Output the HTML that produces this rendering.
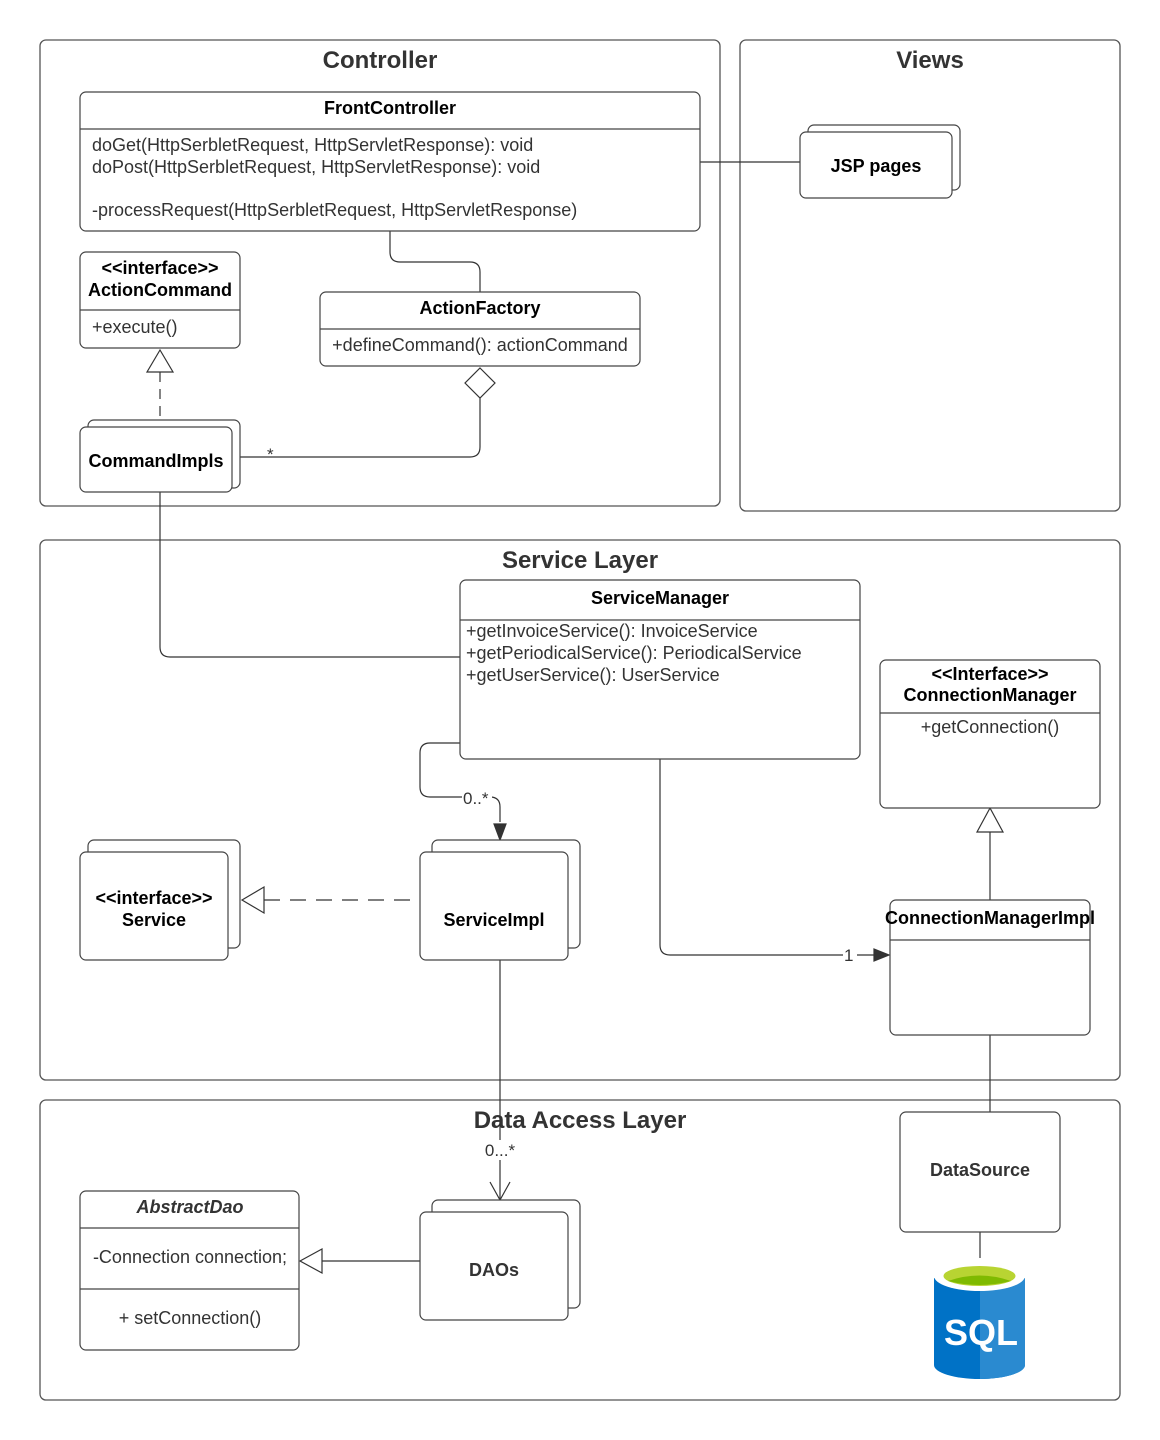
<!DOCTYPE html>
<html><head><meta charset="utf-8"><style>
html,body{margin:0;padding:0;background:#fff}
svg{display:block}
text{font-family:"Liberation Sans",Arial,sans-serif;fill:#333}
.b{font-weight:bold;fill:#000}
</style></head><body>
<svg width="1160" height="1440" viewBox="0 0 1160 1440" xmlns="http://www.w3.org/2000/svg">
<g fill="none" stroke="#555" stroke-width="1.3">
<rect x="40" y="40" width="680" height="466" rx="6" fill="#fff"/>
<rect x="740" y="40" width="380" height="471" rx="6" fill="#fff"/>
<rect x="40" y="540" width="1080" height="540" rx="6" fill="#fff"/>
<rect x="40" y="1100" width="1080" height="300" rx="6" fill="#fff"/>
</g>
<g font-size="24" font-weight="bold" text-anchor="middle">
<text x="380" y="68">Controller</text>
<text x="930" y="68">Views</text>
<text x="580" y="568">Service Layer</text>
<text x="580" y="1128">Data Access Layer</text>
</g>
<g fill="none" stroke="#333" stroke-width="1.2">
<line x1="700" y1="162" x2="800" y2="162"/>
<path d="M390 231 V252 Q390 262 400 262 H470 Q480 262 480 272 V292"/>
<path d="M480 398 V447 Q480 457 470 457 H240"/>
<line x1="160" y1="372" x2="160" y2="420" stroke-dasharray="10,7"/>
<path d="M160 492 V647 Q160 657 170 657 H460"/>
<path d="M460 743 H430 Q420 743 420 753 V787 Q420 797 430 797 H490 Q500 797 500 807 V822"/>
<path d="M660 759 V945 Q660 955 670 955 H874"/>
<line x1="990" y1="832" x2="990" y2="900"/>
<line x1="264" y1="900" x2="420" y2="900" stroke-dasharray="16,10"/>
<line x1="500" y1="960" x2="500" y2="1200"/>
<path d="M490 1182 L500 1200 L510 1182"/>
<line x1="990" y1="1035" x2="990" y2="1112"/>
<line x1="980" y1="1232" x2="980" y2="1258"/>
<line x1="322" y1="1261" x2="420" y2="1261"/>
</g>
<g stroke="#333" stroke-width="1.2">
<polygon points="160,350 147,372 173,372" fill="#fff"/>
<polygon points="480,368 495,383 480,398 465,383" fill="#fff"/>
<polygon points="494,824 506,824 500,840" fill="#333"/>
<polygon points="874,949 874,961 889,955" fill="#333"/>
<polygon points="990,808 977,832 1003,832" fill="#fff"/>
<polygon points="242,900 264,887 264,913" fill="#fff"/>
<polygon points="300,1261 322,1249 322,1273" fill="#fff"/>
</g>
<rect x="478" y="1140" width="44" height="20" fill="#fff"/>
<g font-size="17">
<text x="267" y="460">*</text>
<rect x="462" y="788" width="30" height="18" fill="#fff"/>
<text x="463" y="804">0..*</text>
<rect x="843" y="946" width="14" height="18" fill="#fff"/>
<text x="844" y="961">1</text>
<text x="500" y="1156" text-anchor="middle">0...*</text>
</g>
<g fill="#fff" stroke="#444" stroke-width="1.2">
<rect x="80" y="92" width="620" height="139" rx="6"/>
<rect x="808" y="125" width="152" height="65" rx="6"/>
<rect x="800" y="132" width="152" height="66" rx="6"/>
<rect x="80" y="252" width="160" height="96" rx="6"/>
<rect x="320" y="292" width="320" height="74" rx="6"/>
<rect x="88" y="420" width="152" height="68" rx="6"/>
<rect x="80" y="427" width="152" height="65" rx="6"/>
<rect x="460" y="580" width="400" height="179" rx="6"/>
<rect x="880" y="660" width="220" height="148" rx="6"/>
<rect x="890" y="900" width="200" height="135" rx="6"/>
<rect x="88" y="840" width="152" height="108" rx="6"/>
<rect x="80" y="852" width="148" height="108" rx="6"/>
<rect x="432" y="840" width="148" height="108" rx="6"/>
<rect x="420" y="852" width="148" height="108" rx="6"/>
<rect x="900" y="1112" width="160" height="120" rx="6"/>
<rect x="80" y="1191" width="219" height="159" rx="6"/>
<rect x="432" y="1200" width="148" height="108" rx="6"/>
<rect x="420" y="1212" width="148" height="108" rx="6"/>
</g>
<g stroke="#444" stroke-width="1.2">
<line x1="80" y1="129" x2="700" y2="129"/>
<line x1="80" y1="310" x2="240" y2="310"/>
<line x1="320" y1="329" x2="640" y2="329"/>
<line x1="460" y1="620" x2="860" y2="620"/>
<line x1="880" y1="713" x2="1100" y2="713"/>
<line x1="890" y1="940" x2="1090" y2="940"/>
<line x1="80" y1="1228" x2="299" y2="1228"/>
<line x1="80" y1="1289" x2="299" y2="1289"/>
</g>
<g font-size="18" text-anchor="middle">
<text class="b" x="390" y="114">FrontController</text>
<text class="b" x="876" y="172">JSP pages</text>
<text class="b" x="160" y="274">&lt;&lt;interface&gt;&gt;</text>
<text class="b" x="160" y="296">ActionCommand</text>
<text class="b" x="480" y="314">ActionFactory</text>
<text class="b" x="156" y="467">CommandImpls</text>
<text class="b" x="660" y="604">ServiceManager</text>
<text class="b" x="990" y="680">&lt;&lt;Interface&gt;&gt;</text>
<text class="b" x="990" y="701">ConnectionManager</text>
<text class="b" x="990" y="924">ConnectionManagerImpl</text>
<text class="b" x="154" y="904">&lt;&lt;interface&gt;&gt;</text>
<text class="b" x="154" y="926">Service</text>
<text class="b" x="494" y="926">ServiceImpl</text>
<text class="b" x="980" y="1176" style="fill:#333">DataSource</text>
<text class="b" x="190" y="1213" font-style="italic" style="fill:#333">AbstractDao</text>
<text class="b" x="494" y="1276" style="fill:#333">DAOs</text>
<text x="990" y="733">+getConnection()</text>
<text x="190" y="1263">-Connection connection;</text>
<text x="190" y="1324">+ setConnection()</text>
<text x="480" y="351">+defineCommand(): actionCommand</text>
</g>
<g font-size="18">
<text x="92" y="151">doGet(HttpSerbletRequest, HttpServletResponse): void</text>
<text x="92" y="173">doPost(HttpSerbletRequest, HttpServletResponse): void</text>
<text x="92" y="216">-processRequest(HttpSerbletRequest, HttpServletResponse)</text>
<text x="92" y="333">+execute()</text>
<text x="466" y="637">+getInvoiceService(): InvoiceService</text>
<text x="466" y="659">+getPeriodicalService(): PeriodicalService</text>
<text x="466" y="681">+getUserService(): UserService</text>
</g>
<path d="M934 1278 V1365 A45.5 14 0 0 0 1025 1365 V1278 Z" fill="#0072C6"/>
<path d="M980 1278 V1379 A45.5 14 0 0 0 1025 1365 V1278 Z" fill="#2A8AD0"/>
<ellipse cx="979.5" cy="1276" rx="45.5" ry="15" fill="#fff"/>
<ellipse cx="979.5" cy="1276" rx="36" ry="10" fill="#B8D432"/>
<path d="M948 1281 Q979.5 1270 1011 1281 Q979.5 1289 948 1281 Z" fill="#7FBA00"/>
<text x="981" y="1345" text-anchor="middle" font-size="36" font-weight="bold" style="fill:#fff">SQL</text>
</svg>
</body></html>
